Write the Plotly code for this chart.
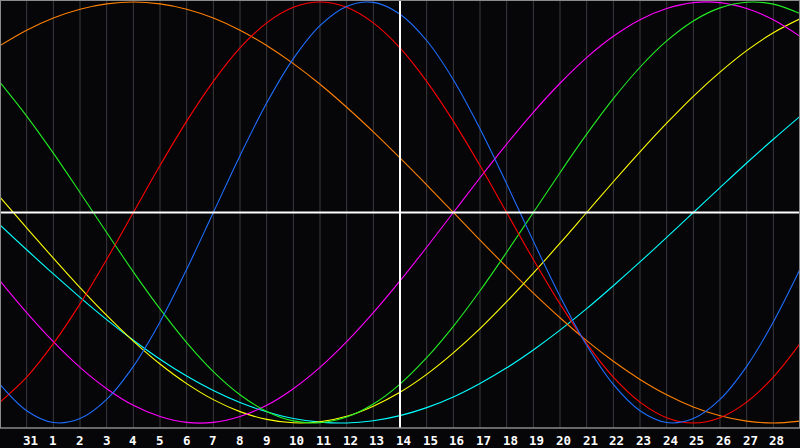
import plotly.graph_objects as go

# day index 0..30 (one point per day); index 0 is the unlabeled day before "31"
days = list(range(31))
tick_days = list(range(1, 30))
tick_labels = ["31"] + [str(d) for d in range(1, 29)]
today_index = 15

blue = [-0.817, -0.942, -0.998, -0.979, -0.888, -0.731, -0.520, -0.270, 0.000, 0.270,
        0.520, 0.731, 0.888, 0.979, 0.998, 0.942, 0.817, 0.631, 0.398, 0.136,
        -0.136, -0.398, -0.631, -0.817, -0.942, -0.998, -0.979, -0.888, -0.731, -0.520, -0.270]
red = [-0.901, -0.782, -0.623, -0.434, -0.223, 0.000, 0.223, 0.434, 0.623, 0.782,
       0.901, 0.975, 1.000, 0.975, 0.901, 0.782, 0.623, 0.434, 0.223, 0.000,
       -0.223, -0.434, -0.623, -0.782, -0.901, -0.975, -1.000, -0.975, -0.901, -0.782, -0.623]
green = [0.618, 0.458, 0.282, 0.095, -0.095, -0.282, -0.458, -0.618, -0.756, -0.866,
         -0.945, -0.990, -0.999, -0.972, -0.910, -0.815, -0.690, -0.541, -0.372, -0.189,
         0.000, 0.189, 0.372, 0.541, 0.690, 0.815, 0.910, 0.972, 0.999, 0.990, 0.945]
magenta = [-0.325, -0.476, -0.614, -0.736, -0.837, -0.916, -0.969, -0.997, -0.997, -0.969,
           -0.916, -0.837, -0.736, -0.614, -0.476, -0.325, -0.165, 0.000, 0.165, 0.325,
           0.476, 0.614, 0.736, 0.837, 0.916, 0.969, 0.997, 0.997, 0.969, 0.916, 0.837]
yellow = [0.073, -0.073, -0.217, -0.357, -0.489, -0.611, -0.720, -0.813, -0.889, -0.946,
          -0.983, -0.999, -0.994, -0.968, -0.920, -0.854, -0.769, -0.667, -0.552, -0.424,
          -0.288, -0.146, 0.000, 0.146, 0.288, 0.424, 0.552, 0.667, 0.769, 0.854, 0.920]
orange = [0.793, 0.866, 0.924, 0.966, 0.991, 1.000, 0.991, 0.966, 0.924, 0.866,
          0.793, 0.707, 0.609, 0.500, 0.383, 0.259, 0.131, 0.000, -0.131, -0.259,
          -0.383, -0.500, -0.609, -0.707, -0.793, -0.866, -0.924, -0.966, -0.991, -1.000, -0.991]
cyan = [-0.059, -0.177, -0.292, -0.403, -0.509, -0.607, -0.697, -0.777, -0.846, -0.903,
        -0.947, -0.979, -0.996, -1.000, -0.989, -0.965, -0.927, -0.876, -0.812, -0.738,
        -0.653, -0.559, -0.457, -0.348, -0.235, -0.118, 0.000, 0.118, 0.235, 0.348, 0.457]

series = [
    ("cyan", cyan, "#00ffff"),
    ("orange", orange, "#ff8000"),
    ("yellow", yellow, "#ffff00"),
    ("magenta", magenta, "#ff00ff"),
    ("green", green, "#22ee22"),
    ("red", red, "#ff0000"),
    ("blue", blue, "#1e6eff"),
]

fig = go.Figure()
for name, vals, col in series:
    fig.add_trace(go.Scatter(x=days, y=vals, mode="lines", name=name,
                             line=dict(color=col, width=1.1, shape="spline", smoothing=1.0),
                             hoverinfo="skip"))

shapes = []
for d in tick_days:
    if d == today_index:
        continue
    shapes.append(dict(type="line", xref="x", yref="paper", x0=d, x1=d, y0=0, y1=1,
                       line=dict(color="#3a3a3e", width=1), layer="below"))
shapes.append(dict(type="line", xref="x", yref="paper", x0=today_index, x1=today_index,
                   y0=0, y1=1, line=dict(color="#ffffff", width=2), layer="above"))
shapes.append(dict(type="line", xref="paper", yref="y", x0=0, x1=1, y0=0, y1=0,
                   line=dict(color="#ffffff", width=2), layer="above"))
# frame: left, right, top, bottom
shapes.append(dict(type="line", xref="paper", yref="paper", x0=0, x1=0, y0=0, y1=1,
                   line=dict(color="#8a8a8a", width=2)))
shapes.append(dict(type="line", xref="paper", yref="paper", x0=1, x1=1, y0=0, y1=1,
                   line=dict(color="#8a8a8a", width=2)))
shapes.append(dict(type="line", xref="paper", yref="paper", x0=0, x1=1, y0=1, y1=1,
                   line=dict(color="#8a8a8a", width=2)))
shapes.append(dict(type="line", xref="paper", yref="paper", x0=0, x1=1, y0=0, y1=0,
                   line=dict(color="#8a8a8a", width=1.5)))

annotations = []
for d, lab in zip(tick_days, tick_labels):
    annotations.append(dict(x=d, y=0, xref="x", yref="paper", text="<b>" + lab + "</b>",
                            showarrow=False, xanchor="left", yanchor="top",
                            xshift=-6, yshift=-3,
                            font=dict(family="DejaVu Sans Mono", size=12.5, color="#ffffff")))

fig.update_layout(
    width=800, height=448,
    margin=dict(l=0, r=0, t=0, b=20),
    paper_bgcolor="#060609", plot_bgcolor="#060609",
    showlegend=False,
    shapes=shapes, annotations=annotations,
    xaxis=dict(range=[0, 30], showgrid=False, zeroline=False, showticklabels=False,
               ticks="", fixedrange=True),
    yaxis=dict(range=[-1.0238, 1.0095], showgrid=False, zeroline=False,
               showticklabels=False, ticks="", fixedrange=True),
)

fig.write_html("out.html", config={"displayModeBar": False},
               post_script="document.body.style.margin='0';document.body.style.background='#060609';")
